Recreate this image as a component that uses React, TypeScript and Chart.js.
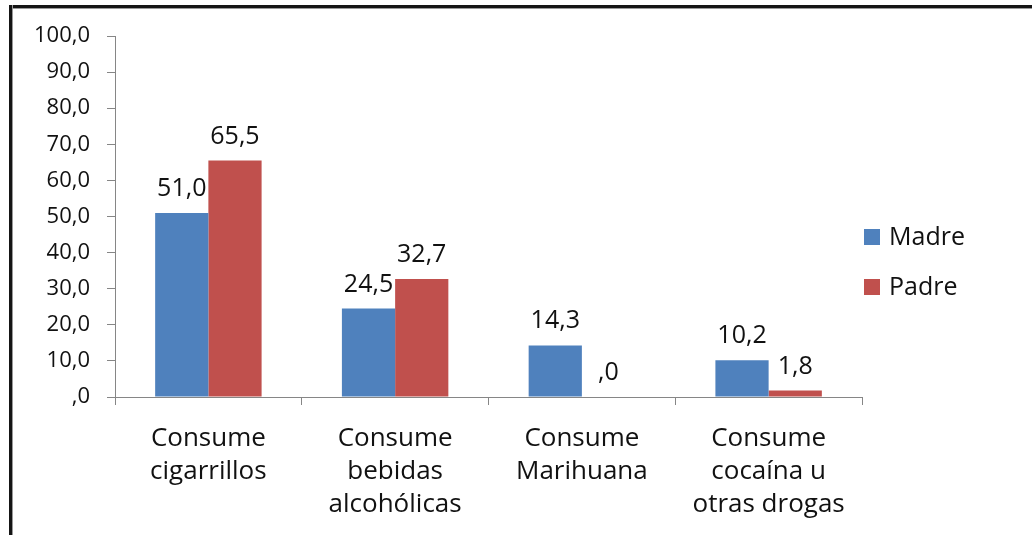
import React, { useEffect, useRef } from "react";
import { Chart, registerables } from "chart.js";

Chart.register(...registerables);

const categories: string[][] = [
  ["Consume", "cigarrillos"],
  ["Consume", "bebidas", "alcohólicas"],
  ["Consume", "Marihuana"],
  ["Consume", "cocaína u", "otras drogas"],
];
const madre: number[] = [51.0, 24.5, 14.3, 10.2];
const padre: number[] = [65.5, 32.7, 0.0, 1.8];
const seriesNames: string[] = ["Madre", "Padre"];
const seriesColors: string[] = ["#4F81BD", "#C0504D"];

const FONT = "'Open Sans', sans-serif";
const TEXT = "#111111";

function fmt(v: number): string {
  const s = v.toFixed(1).replace(".", ",");
  return s.startsWith("0,") ? s.slice(1) : s;
}

const valueLabels = {
  id: "valueLabels",
  afterDatasetsDraw(chart: any) {
    const ctx = chart.ctx;
    ctx.save();
    ctx.font = `25px ${FONT}`;
    ctx.fillStyle = TEXT;
    ctx.textAlign = "center";
    ctx.textBaseline = "alphabetic";
    chart.data.datasets.forEach((ds: any, di: number) => {
      const meta = chart.getDatasetMeta(di);
      meta.data.forEach((bar: any, i: number) => {
        ctx.fillText(fmt(ds.data[i]), bar.x, bar.y - 17);
      });
    });
    ctx.restore();
  },
};

const sideLegend = {
  id: "sideLegend",
  afterDraw(chart: any) {
    const ctx = chart.ctx;
    ctx.save();
    ctx.font = `25px ${FONT}`;
    ctx.textBaseline = "middle";
    ctx.textAlign = "left";
    chart.data.datasets.forEach((ds: any, i: number) => {
      const cy = 237 + i * 50;
      ctx.fillStyle = ds.backgroundColor;
      ctx.fillRect(864, cy - 8, 16, 16);
      ctx.fillStyle = TEXT;
      ctx.fillText(ds.label, 889, cy + 1);
    });
    ctx.restore();
  },
};

export default function App() {
  const ref = useRef<HTMLCanvasElement | null>(null);
  useEffect(() => {
    if (!ref.current) return;
    const chart = new Chart(ref.current, {
      type: "bar",
      data: {
        labels: categories,
        datasets: [
          {
            label: seriesNames[0],
            data: madre,
            backgroundColor: seriesColors[0],
            categoryPercentage: 0.57,
            barPercentage: 1.0,
          },
          {
            label: seriesNames[1],
            data: padre,
            backgroundColor: seriesColors[1],
            categoryPercentage: 0.57,
            barPercentage: 1.0,
          },
        ],
      },
      options: {
        responsive: false,
        animation: false,
        maintainAspectRatio: false,
        layout: { padding: { top: 36, right: 170, bottom: 0, left: 0 } },
        plugins: { legend: { display: false }, tooltip: { enabled: false } },
        scales: {
          x: {
            grid: {
              drawOnChartArea: false,
              drawTicks: true,
              tickLength: 8,
              color: "#868686",
              offset: true,
            },
            border: { color: "#868686", width: 1 },
            ticks: {
              font: { family: FONT, size: 26, lineHeight: 1.27 },
              color: TEXT,
              padding: 17,
              maxRotation: 0,
              autoSkip: false,
            },
            afterFit: (scale: any) => {
              scale.height = 138;
            },
          },
          y: {
            min: 0,
            max: 100,
            grid: {
              drawOnChartArea: false,
              drawTicks: true,
              tickLength: 8,
              color: "#868686",
            },
            border: { color: "#868686", width: 1 },
            ticks: {
              stepSize: 10,
              font: { family: FONT, size: 22 },
              color: TEXT,
              padding: 17,
              callback: (v: any) => fmt(Number(v)),
            },
            afterFit: (scale: any) => {
              scale.width = 115;
            },
          },
        },
      },
      plugins: [valueLabels, sideLegend],
    });
    return () => chart.destroy();
  }, []);

  return (
    <div style={{ position: "fixed", left: 0, top: 0, width: 1032, height: 535, background: "#fff", overflow: "hidden" }}>
      <canvas ref={ref} width={1032} height={535} style={{ position: "absolute", left: 0, top: 0 }} />
      <div style={{ position: "absolute", left: 9, top: 5, width: 1023, height: 3, background: "#151515", borderBottom: "1px solid #999" }} />
      <div style={{ position: "absolute", left: 9, top: 5, width: 3, height: 530, background: "#151515", borderRight: "1px solid #999" }} />
    </div>
  );
}
